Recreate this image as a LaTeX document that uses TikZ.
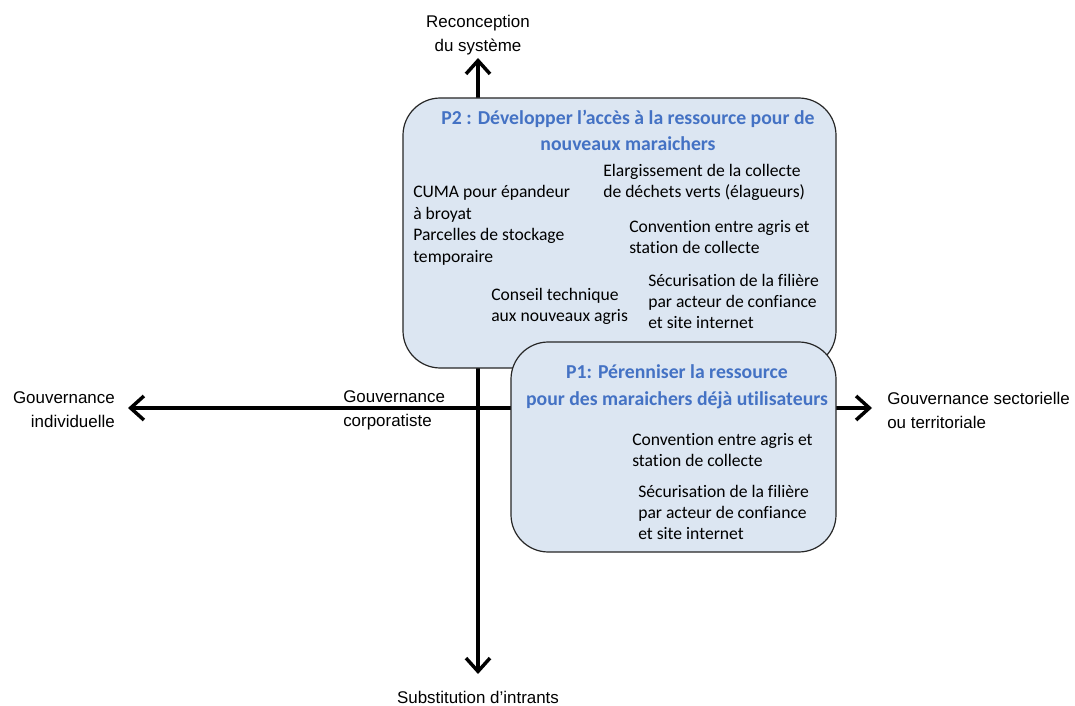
\documentclass[tikz,border=0pt]{standalone}
\usepackage{fontspec}
\setmainfont{Carlito}[Ligatures=NoCommon]
\newfontfamily\arialf{Liberation Sans}
\usetikzlibrary{arrows.meta}
\definecolor{boxfill}{HTML}{DCE6F2}
\definecolor{titleblue}{HTML}{4472C4}
\begin{document}
\begin{tikzpicture}[x=0.75pt,y=-0.75pt,
  box/.style={draw=black!85, line width=0.9pt, fill=boxfill, rounded corners=28pt, inner sep=0pt},
  body/.style={font=\fontsize{13.2pt}{15.75pt}\selectfont, align=left, inner sep=0pt, anchor=west},
  ttl/.style={font=\fontsize{14.8pt}{19.5pt}\selectfont\bfseries, text=titleblue, align=center, inner sep=0pt},
  axlab/.style={font=\arialf\fontsize{12.7pt}{18pt}\selectfont, inner sep=0pt},
  axisline/.style={line width=2.6pt, {Straight Barb[length=10pt,width=18pt]}-{Straight Barb[length=10pt,width=18pt]}}
]
\useasboundingbox (0,0) rectangle (1075,706);
% axes
\coordinate (N) at (478,58);
\coordinate (S) at (478,674);
\coordinate (W) at (128,408);
\coordinate (E) at (872,408);
\draw[axisline] (S) -- (N);
\draw[axisline] (W) -- (E);
% boxes
\node[box, minimum width=324.75pt, minimum height=202.5pt] (p2) at (619.5,233) {};
\node[box, minimum width=243.75pt, minimum height=157.5pt] (p1) at (673.5,447) {};
% titles
\node[ttl] (t2) at (628,130) {P2 : Développer l’accès à la ressource pour de\\nouveaux maraichers};
\node[ttl, font=\fontsize{14.8pt}{20.5pt}\selectfont\bfseries] (t1) at (677,387) {P1: Pérenniser la ressource\\pour des maraichers déjà utilisateurs};
% P2 contents
\node[body] (elarg) at (603,182) {Elargissement de la collecte\\de déchets verts (élagueurs)};
\node[body, font=\fontsize{13.2pt}{16.2pt}\selectfont] (cuma) at (413,225.5) {CUMA pour épandeur\\à broyat\\Parcelles de stockage\\temporaire};
\node[body] (conv2) at (629,237.5) {Convention entre agris et\\station de collecte};
\node[body] (secu2) at (648,301) {Sécurisation de la filière\\par acteur de confiance\\et site internet};
\node[body] (cons) at (491,306.5) {Conseil technique\\aux nouveaux agris};
% P1 contents
\node[body] (conv1) at (632,450.5) {Convention entre agris et\\station de collecte};
\node[body] (secu1) at (638,512.5) {Sécurisation de la filière\\par acteur de confiance\\et site internet};
% axis labels
\node[axlab, align=center] (rec) at (478,35) {Reconception\\du système};
\node[axlab, align=right, anchor=east] (gi) at (115,410) {Gouvernance\\individuelle};
\node[axlab, align=left, anchor=west] (gc) at (343,410) {Gouvernance\\corporatiste};
\node[axlab, align=left, anchor=west] (gs) at (887,410) {Gouvernance sectorielle\\ou territoriale};
\node[axlab] (sub) at (478,697) {Substitution d’intrants};
\end{tikzpicture}
\end{document}
